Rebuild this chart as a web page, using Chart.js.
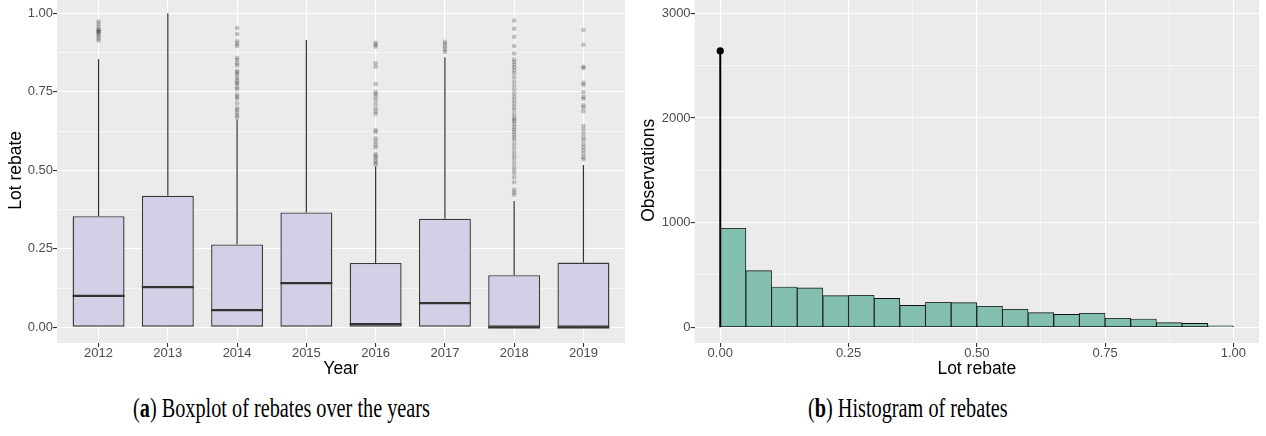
<!DOCTYPE html>
<html>
<head>
<meta charset="utf-8">
<script src="https://cdn.jsdelivr.net/npm/chart.js@4.4.1/dist/chart.umd.min.js"></script>
<style>
  body { margin: 0; background: #fff; width: 1266px; height: 436px; overflow: hidden; position: relative; }
  canvas { position: absolute; }
  #boxChart { left: 0; top: -11px; }
  #histChart { left: 630px; top: -11px; }
  .caption { position: absolute; top: 393px; font-family: "Liberation Serif", serif; font-size: 27px; line-height: 30px;
    color: #000; white-space: nowrap; transform: scaleX(0.75); transform-origin: left top; }
</style>
</head>
<body>
<canvas id="boxChart" width="630" height="392"></canvas>
<canvas id="histChart" width="636" height="392"></canvas>
<div class="caption" style="left:133px">(<b>a</b>) Boxplot of rebates over the years</div>
<div class="caption" style="left:808px">(<b>b</b>) Histogram of rebates</div>
<script>
// yearly rebate distribution (box stats)
const years = ["2012", "2013", "2014", "2015", "2016", "2017", "2018", "2019"];
const boxLow = [0, 0, 0, 0, 0, 0, 0, 0];
const boxQ1 = [0, 0, 0, 0, 0, 0, 0, 0];
const boxMedian = [0.100, 0.128, 0.055, 0.141, 0.010, 0.077, 0.0, 0.0];
const boxQ3 = [0.354, 0.419, 0.264, 0.366, 0.205, 0.346, 0.166, 0.206];
const boxHigh = [0.854, 1.000, 0.662, 0.915, 0.511, 0.860, 0.402, 0.517];

// outliers per year
const out2012 = [0.974, 0.966, 0.957, 0.949, 0.945, 0.942, 0.940, 0.934, 0.928, 0.920, 0.913];
const out2013 = [];
const out2014 = [0.953, 0.934, 0.911, 0.903, 0.896, 0.858, 0.851, 0.841, 0.834, 0.816, 0.811, 0.804,
  0.794, 0.787, 0.779, 0.775, 0.764, 0.758, 0.741, 0.734, 0.728, 0.713, 0.698, 0.692, 0.683, 0.675, 0.668];
const out2015 = [];
const out2016 = [0.906, 0.900, 0.894, 0.841, 0.830, 0.775, 0.749, 0.743, 0.734, 0.724, 0.711, 0.698,
  0.688, 0.679, 0.628, 0.622, 0.602, 0.592, 0.581, 0.573, 0.552, 0.545, 0.539, 0.530, 0.524, 0.517];
const out2017 = [0.909, 0.902, 0.894, 0.885, 0.877];
const out2018 = [0.977, 0.951, 0.925, 0.896, 0.872, 0.853, 0.845, 0.836, 0.828, 0.819, 0.809, 0.796,
  0.783, 0.770, 0.758, 0.745, 0.734, 0.724, 0.713, 0.702, 0.692, 0.679, 0.668, 0.662, 0.656, 0.647,
  0.638, 0.630, 0.622, 0.613, 0.605, 0.596, 0.583, 0.571, 0.558, 0.547, 0.537, 0.524, 0.511, 0.500,
  0.490, 0.477, 0.462, 0.439, 0.430, 0.422];
const out2019 = [0.947, 0.900, 0.830, 0.826, 0.779, 0.772, 0.749, 0.734, 0.728, 0.707, 0.700, 0.688,
  0.641, 0.630, 0.617, 0.605, 0.596, 0.583, 0.573, 0.564, 0.553, 0.542, 0.535];
const outliers = [out2012, out2013, out2014, out2015, out2016, out2017, out2018, out2019];

const boxTicks = [0, 0.25, 0.5, 0.75, 1];
const boxMinorTicks = [0.125, 0.375, 0.625, 0.875];

// histogram of rebates
const binCenters = [0.025, 0.075, 0.125, 0.175, 0.225, 0.275, 0.325, 0.375, 0.425, 0.475,
  0.525, 0.575, 0.625, 0.675, 0.725, 0.775, 0.825, 0.875, 0.925, 0.975];
const binCounts = [946, 541, 385, 376, 302, 306, 277, 210, 239, 235,
  201, 172, 140, 124, 134, 86, 79, 44, 38, 15];
const zeroRebate = 2641;
const histXTicks = [0, 0.25, 0.5, 0.75, 1];
const histXMinor = [0.125, 0.375, 0.625, 0.875];
const histYTicks = [0, 1000, 2000, 3000];
const histYMinor = [500, 1500, 2500];

const sans = '"Liberation Sans", Arial, sans-serif';
const tickFont = { family: sans, size: 13, lineHeight: 1 };
const titleFont = { family: sans, size: 17.5 };

const panelBg = {
  id: 'panelBg',
  beforeDraw(chart) {
    const { ctx, chartArea: a } = chart;
    ctx.save();
    ctx.fillStyle = '#EBEBEB';
    ctx.fillRect(a.left, a.top, a.right - a.left, a.bottom - a.top);
    ctx.restore();
  }
};

function gridFor(major) {
  const isMajor = c => c.tick && major.includes(c.tick.value);
  return {
    color: '#fff',
    lineWidth: c => isMajor(c) ? 1.1 : 0.55,
    tickColor: c => isMajor(c) ? '#333' : 'rgba(0,0,0,0)',
    tickWidth: 1.1,
    tickLength: 4,
    drawTicks: true
  };
}

function setTicks(list) {
  return scale => { scale.ticks = list.map(v => ({ value: v })); };
}

// whiskers and median lines on top of the boxes
const boxWhiskers = {
  id: 'boxWhiskers',
  afterDatasetsDraw(chart) {
    const { ctx, scales: { x, y } } = chart;
    const bars = chart.getDatasetMeta(1).data;
    ctx.save();
    ctx.strokeStyle = '#333';
    years.forEach((yr, i) => {
      const cx = x.getPixelForValue(i + 1);
      ctx.lineWidth = 1.2;
      ctx.beginPath();
      ctx.moveTo(cx, y.getPixelForValue(boxQ3[i]));
      ctx.lineTo(cx, y.getPixelForValue(boxHigh[i]));
      ctx.moveTo(cx, y.getPixelForValue(boxQ1[i]));
      ctx.lineTo(cx, y.getPixelForValue(boxLow[i]));
      ctx.stroke();
      const bar = bars[i];
      const my = y.getPixelForValue(boxMedian[i]);
      ctx.lineWidth = 2.2;
      ctx.beginPath();
      ctx.moveTo(bar.x - bar.width / 2, my);
      ctx.lineTo(bar.x + bar.width / 2, my);
      ctx.stroke();
    });
    ctx.restore();
  }
};

new Chart(document.getElementById('boxChart'), {
  type: 'bar',
  data: {
    datasets: [
      {
        type: 'scatter',
        data: outliers.flatMap((vals, i) => vals.map(v => ({ x: i + 1, y: v }))),
        pointRadius: 2.3,
        pointBorderWidth: 0,
        pointBackgroundColor: 'rgba(0,0,0,0.22)',
        showLine: false,
        order: 0
      },
      {
        data: years.map((yr, i) => ({ x: i + 1, y: [boxQ1[i], boxQ3[i]] })),
        backgroundColor: '#D3CFE6',
        borderColor: '#3a3a3a',
        borderWidth: 1.4,
        borderSkipped: false,
        barPercentage: 0.75,
        categoryPercentage: 1,
        order: 1
      }
    ]
  },
  options: {
    responsive: false,
    animation: false,
    layout: { padding: { top: 8.6, right: 5, left: 0, bottom: 0 } },
    plugins: { legend: { display: false }, tooltip: { enabled: false } },
    scales: {
      x: {
        type: 'linear',
        min: 0.4,
        max: 8.6,
        offset: false,
        afterBuildTicks: setTicks(years.map((yr, i) => i + 1)),
        afterFit: s => { s.height = 38; },
        border: { display: false },
        grid: { ...gridFor(years.map((yr, i) => i + 1)), offset: false },
        ticks: { font: tickFont, color: '#4D4D4D', padding: 0, autoSkip: false, maxRotation: 0,
          callback: v => years[v - 1] },
        title: { display: true, text: 'Year', color: '#000', font: titleFont, padding: { top: 0, bottom: 1.5 } }
      },
      y: {
        min: -0.05,
        max: 1.05,
        afterBuildTicks: setTicks([...boxTicks, ...boxMinorTicks].sort((a, b) => a - b)),
        afterFit: s => { s.width = 57; },
        border: { display: false },
        grid: gridFor(boxTicks),
        ticks: { font: tickFont, color: '#4D4D4D', padding: 0, autoSkip: false,
          callback: v => boxTicks.includes(v) ? v.toFixed(2) : '' },
        title: { display: true, text: 'Lot rebate', color: '#000', font: titleFont, padding: { top: 6, bottom: 0 } }
      }
    }
  },
  plugins: [panelBg, boxWhiskers]
});

new Chart(document.getElementById('histChart'), {
  type: 'bar',
  data: {
    datasets: [
      {
        type: 'line',
        data: [{ x: 0, y: 0 }, { x: 0, y: zeroRebate }],
        borderColor: '#000',
        borderWidth: 2,
        pointRadius: c => c.dataIndex === 1 ? 3.6 : 0,
        pointBorderWidth: 0,
        pointBackgroundColor: '#000',
        order: 0
      },
      {
        data: binCenters.map((c, i) => ({ x: c, y: binCounts[i] })),
        backgroundColor: '#83BFAE',
        borderColor: '#111',
        borderWidth: 0.9,
        borderSkipped: false,
        barPercentage: 1,
        categoryPercentage: 1,
        order: 1
      }
    ]
  },
  options: {
    responsive: false,
    animation: false,
    layout: { padding: { top: 8.6, right: 7, left: 0, bottom: 0 } },
    plugins: { legend: { display: false }, tooltip: { enabled: false } },
    scales: {
      x: {
        type: 'linear',
        min: -0.05,
        max: 1.05,
        offset: false,
        afterBuildTicks: setTicks([...histXTicks, ...histXMinor].sort((a, b) => a - b)),
        afterFit: s => { s.height = 38; },
        border: { display: false },
        grid: { ...gridFor(histXTicks), offset: false },
        ticks: { font: tickFont, color: '#4D4D4D', padding: 0, autoSkip: false, maxRotation: 0,
          callback: v => histXTicks.includes(v) ? v.toFixed(2) : '' },
        title: { display: true, text: 'Lot rebate', color: '#000', font: titleFont, padding: { top: 0, bottom: 1.5 } }
      },
      y: {
        min: -150,
        max: 3150,
        afterBuildTicks: setTicks([...histYTicks, ...histYMinor].sort((a, b) => a - b)),
        afterFit: s => { s.width = 64.6; },
        border: { display: false },
        grid: gridFor(histYTicks),
        ticks: { font: tickFont, color: '#4D4D4D', padding: 0, autoSkip: false,
          callback: v => histYTicks.includes(v) ? String(v) : '' },
        title: { display: true, text: 'Observations', color: '#000', font: titleFont, padding: { top: 8.8, bottom: 0 } }
      }
    }
  },
  plugins: [panelBg]
});
</script>
</body>
</html>
